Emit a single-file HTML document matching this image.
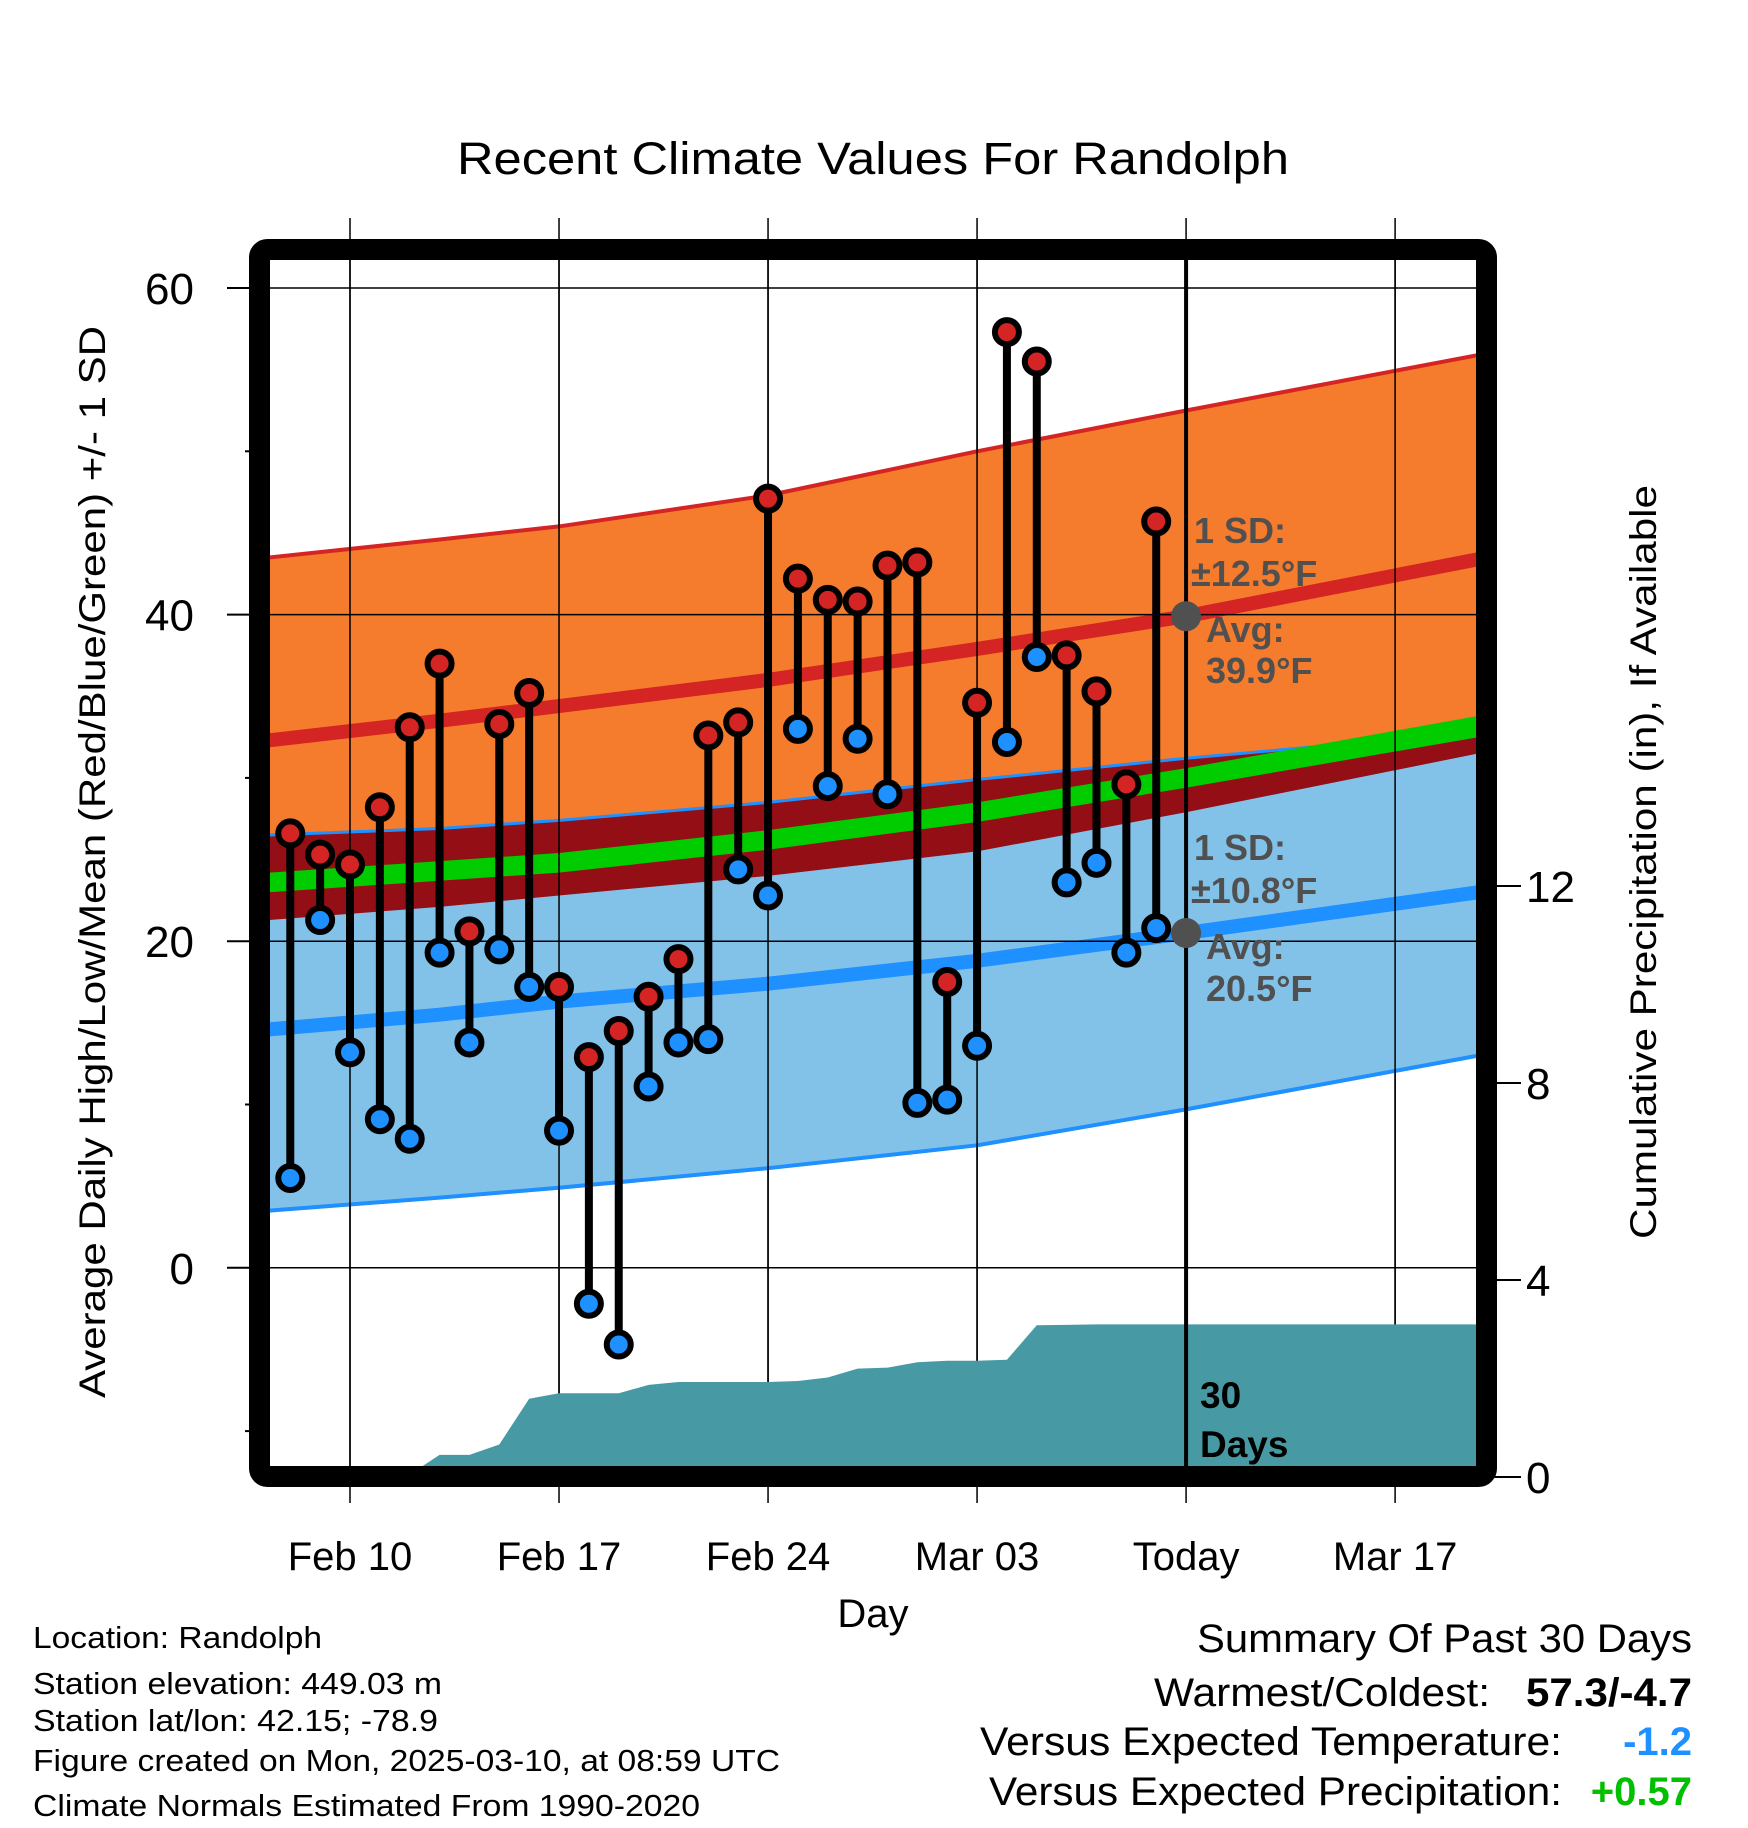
<!DOCTYPE html>
<html><head><meta charset="utf-8"><style>
html,body{margin:0;padding:0;background:#fff;}
svg{display:block;font-family:"Liberation Sans",sans-serif;}
</style></head><body>
<svg id="chart" width="1748" height="1828" viewBox="0 0 1748 1828" xmlns="http://www.w3.org/2000/svg">
<defs><clipPath id="plotclip"><rect x="259" y="249" width="1228" height="1228"/></clipPath></defs>
<text x="873" y="174" font-size="45" text-anchor="middle" textLength="832" lengthAdjust="spacingAndGlyphs">Recent Climate Values For Randolph</text>
<g id="grid"></g>
<g id="bands" clip-path="url(#plotclip)"></g>
<g id="gridover" clip-path="url(#plotclip)"></g>
<g id="precip" clip-path="url(#plotclip)"></g>
<g id="marks"></g>
<g id="annot"></g>
<rect x="259.5" y="249.5" width="1227" height="1227" rx="8" fill="none" stroke="#000" stroke-width="21"/>
<text transform="translate(105,862) rotate(-90)" font-size="37" text-anchor="middle" textLength="1072" lengthAdjust="spacingAndGlyphs">Average Daily High/Low/Mean (Red/Blue/Green) +/- 1 SD</text>
<text transform="translate(1656,862) rotate(-90)" font-size="37" text-anchor="middle" textLength="754" lengthAdjust="spacingAndGlyphs">Cumulative Precipitation (in), If Available</text>
<text x="873" y="1627" font-size="40" text-anchor="middle">Day</text>
<g font-size="31">
<text x="33" y="1648" textLength="289" lengthAdjust="spacingAndGlyphs">Location: Randolph</text>
<text x="33" y="1694" textLength="409" lengthAdjust="spacingAndGlyphs">Station elevation: 449.03 m</text>
<text x="33" y="1731" textLength="405" lengthAdjust="spacingAndGlyphs">Station lat/lon: 42.15; -78.9</text>
<text x="33" y="1771" textLength="747" lengthAdjust="spacingAndGlyphs">Figure created on Mon, 2025-03-10, at 08:59 UTC</text>
<text x="33" y="1816" textLength="667" lengthAdjust="spacingAndGlyphs">Climate Normals Estimated From 1990-2020</text>
</g>
<g font-size="40">
<text x="1692" y="1652" text-anchor="end" textLength="495" lengthAdjust="spacingAndGlyphs">Summary Of Past 30 Days</text>
<text x="1490" y="1706" text-anchor="end" textLength="336" lengthAdjust="spacingAndGlyphs">Warmest/Coldest:</text>
<text x="1692" y="1706" text-anchor="end" font-weight="bold" textLength="166" lengthAdjust="spacingAndGlyphs">57.3/-4.7</text>
<text x="1562" y="1755" text-anchor="end" textLength="582" lengthAdjust="spacingAndGlyphs">Versus Expected Temperature:</text>
<text x="1692" y="1755" text-anchor="end" font-weight="bold" fill="#1e90ff">-1.2</text>
<text x="1562" y="1805" text-anchor="end" textLength="573" lengthAdjust="spacingAndGlyphs">Versus Expected Precipitation:</text>
<text x="1692" y="1805" text-anchor="end" font-weight="bold" fill="#00c000">+0.57</text>
</g>
</svg>
<script>
// ---- data ----
const days = [-2,-1,0,1,2,3,4,5,6,7,8,9,10,11,12,13,14,15,16,17,18,19,20,21,22,23,24,25,26,27];
const highs = [26.6,25.3,24.7,28.2,33.1,37.0,20.6,33.3,35.2,17.2,12.9,14.5,16.6,18.9,32.6,33.4,47.1,42.2,40.9,40.8,43.0,43.2,17.5,34.6,57.3,55.5,37.5,35.3,29.6,45.7];
const lows = [5.5,21.3,13.2,9.1,7.9,19.3,13.8,19.5,17.2,8.4,-2.2,-4.7,11.1,13.8,14.0,24.4,22.8,33.0,29.5,32.4,29.0,10.1,10.3,13.6,32.2,37.4,23.6,24.8,19.3,20.8];
const precip = [0,0,0,0,0.05,0.45,0.45,0.66,1.59,1.70,1.70,1.70,1.87,1.93,1.93,1.93,1.93,1.95,2.02,2.20,2.22,2.33,2.36,2.36,2.38,3.08,3.09,3.10,3.10,3.10];
const normDays = [-2.7,3,7,14,21,28,37.8];
const redHi = [43.5,44.6,45.4,47.3,50.0,52.5,55.9];
const redMean = [32.3,33.5,34.4,36.0,37.9,39.9,43.4];
const redLo = [21.3,22.1,22.8,24.0,25.5,27.9,31.5];
const blueHi = [26.5,26.9,27.4,28.5,29.9,31.2,32.8];
const blueMean = [14.6,15.5,16.3,17.4,18.8,20.5,23.0];
const blueLo = [3.5,4.3,4.9,6.1,7.5,9.7,13.0];
const greenHi = [24.2,24.9,25.4,26.8,28.5,30.6,33.8];
const greenLo = [23.0,23.7,24.2,25.6,27.3,29.4,32.5];
const tempTicks = [60,40,20,0];
const tempMinor = [50,30,10,-10];
const precipTicks = [0,4,8,12];
const xTickDays = [0,7,14,21,28,35];
const xTickLabels = ["Feb 10","Feb 17","Feb 24","Mar 03","Today","Mar 17"];
const todayDay = 28;
const todayRedAvg = 39.9, todayBlueAvg = 20.5;

// ---- axes ----
const X = d => 350 + d*29.86;
const Y = v => 288 + (60 - v)*16.33;
const P = v => 1477 - v*49.25;
const NS = "http://www.w3.org/2000/svg";
function mk(parent, tag, attrs){ const e=document.createElementNS(NS,tag); for(const k in attrs) e.setAttribute(k,attrs[k]); parent.appendChild(e); return e; }
const grid=document.getElementById('grid'), bands=document.getElementById('bands'), gridover=document.getElementById('gridover'), pr=document.getElementById('precip'), marks=document.getElementById('marks'), annot=document.getElementById('annot');

function bandPath(lo, hi){
  let s = normDays.map((d,i)=>(i?'L':'M')+X(d)+','+Y(hi[i])).join(' ');
  for(let i=normDays.length-1;i>=0;i--) s+=' L'+X(normDays[i])+','+Y(lo[i]);
  return s+' Z';
}
function linePath(arr){ return normDays.map((d,i)=>(i?'L':'M')+X(d)+','+Y(arr[i])).join(' '); }

let e;
e = mk(bands,'path',{d:bandPath(redLo,redHi),fill:'#f57b2d'});


e = mk(bands,'path',{d:bandPath(blueLo,blueHi),fill:'#83c2e8'});


e = mk(bands,'path',{d:bandPath(redLo,blueHi.map((v,i)=>Math.max(v,redLo[i]))),fill:'#940e15'});


e = mk(bands,'path',{d:linePath(blueHi),fill:'none',stroke:'#1e90ff','stroke-width':3});


e = mk(bands,'path',{d:bandPath(greenLo,greenHi),fill:'#00cc00'});


e = mk(bands,'path',{d:linePath(redHi),fill:'none',stroke:'#d42424','stroke-width':4});


e = mk(bands,'path',{d:linePath(blueLo),fill:'none',stroke:'#1e90ff','stroke-width':4});


e = mk(bands,'path',{d:linePath(redMean),fill:'none',stroke:'#d42424','stroke-width':14});


e = mk(bands,'path',{d:linePath(blueMean),fill:'none',stroke:'#1e90ff','stroke-width':14});



// grid + ticks
tempTicks.forEach(v=>{
  e = mk(grid,'line',{x1:227,x2:270,y1:Y(v),y2:Y(v),stroke:'#000','stroke-width':2});
  
  
  e = mk(gridover,'line',{x1:259,x2:1487,y1:Y(v),y2:Y(v),stroke:'#000','stroke-width':1.5});
  
  
  e = mk(grid,'text',{x:194,y:Y(v)+16,'font-size':44,'text-anchor':'end'});
  e.textContent = v;
  
  
});
tempMinor.forEach(v=>{
  e = mk(grid,'line',{x1:245,x2:260,y1:Y(v),y2:Y(v),stroke:'#000','stroke-width':2});
  
  
});
precipTicks.forEach(v=>{
  e = mk(grid,'line',{x1:1487,x2:1521,y1:P(v),y2:P(v),stroke:'#000','stroke-width':2});
  
  
  e = mk(grid,'text',{x:1526,y:P(v)+16,'font-size':44,'text-anchor':'start'});
  e.textContent = v;
  
  
});
xTickDays.forEach((d,i)=>{
  e = mk(grid,'line',{x1:X(d),x2:X(d),y1:218,y2:1503,stroke:'#000','stroke-width':1.5});
  
  
  e = mk(grid,'text',{x:X(d),y:1570,'font-size':40,'text-anchor':'middle'});
  e.textContent = xTickLabels[i];
  
  
});
xTickDays.forEach(d=>{
  e = mk(gridover,'line',{x1:X(d),x2:X(d),y1:249,y2:1477,stroke:'#000','stroke-width':1.5});
  
  
});

// precip area
let ps = 'M'+X(-3)+','+P(0)+' L'+X(-3)+','+P(precip[0]);
days.forEach((d,i)=>{ ps+=' L'+X(d)+','+P(precip[i]); });
ps += ' L'+X(39)+','+P(precip[precip.length-1])+' L'+X(39)+','+P(0)+' Z';
e = mk(pr,'path',{d:ps,fill:'#479aa3'});



// today line
e = mk(marks,'line',{x1:X(todayDay),x2:X(todayDay),y1:250,y2:1470,stroke:'#000','stroke-width':4});



// stems and points
days.forEach((d,i)=>{
  e = mk(marks,'line',{x1:X(d),x2:X(d),y1:Y(highs[i]),y2:Y(lows[i]),stroke:'#000','stroke-width':8});
  
  
});
days.forEach((d,i)=>{
  e = mk(marks,'circle',{cx:X(d),cy:Y(highs[i]),r:12,fill:'#d42424',stroke:'#000','stroke-width':6});
  
  
  e = mk(marks,'circle',{cx:X(d),cy:Y(lows[i]),r:12,fill:'#1e90ff',stroke:'#000','stroke-width':6});
  
  
});

// annotations
e = mk(annot,'circle',{cx:X(todayDay),cy:Y(todayRedAvg),r:15,fill:'#505050'});


e = mk(annot,'circle',{cx:X(todayDay),cy:Y(todayBlueAvg),r:15,fill:'#505050'});


const ann = [
 ['1 SD:',1194,543,'high-sd-label'],['\u00b112.5\u00b0F',1191,586,'high-sd-value'],
 ['Avg:',1206,642,'high-avg-label'],[todayRedAvg+'\u00b0F',1206,683,'high-avg-value'],
 ['1 SD:',1194,860,'low-sd-label'],['\u00b110.8\u00b0F',1191,903,'low-sd-value'],
 ['Avg:',1206,959,'low-avg-label'],[todayBlueAvg+'\u00b0F',1206,1001,'low-avg-value']];
ann.forEach(a=>{
  e = mk(annot,'text',{x:a[1],y:a[2],'font-size':36,'font-weight':'bold',fill:'#505050'});
  e.textContent = a[0];
  
  
});
e = mk(annot,'text',{x:1200,y:1408,'font-size':37,'font-weight':'bold',fill:'#000'});
e.textContent='30';


e = mk(annot,'text',{x:1200,y:1457,'font-size':37,'font-weight':'bold',fill:'#000'});
e.textContent='Days';


</script>
</body></html>
